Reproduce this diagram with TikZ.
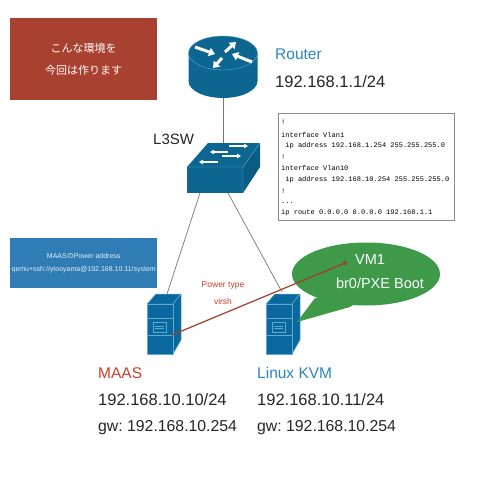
\documentclass[tikz,border=0pt]{standalone}
\usepackage{fontspec}
\setmainfont{Liberation Sans}
\newfontfamily\cjk{Noto Sans CJK JP}
\newfontfamily\cfgfont{Liberation Mono}
\usetikzlibrary{arrows.meta}
\frenchspacing
\definecolor{netblue}{HTML}{0C6690}
\definecolor{srvblue}{HTML}{0A689E}
\definecolor{srvline}{HTML}{5FA9CF}
\definecolor{labblue}{HTML}{2A86BE}
\definecolor{boxblue}{HTML}{2F7DB4}
\definecolor{redbox}{HTML}{A8412F}
\definecolor{labred}{HTML}{C8402A}
\definecolor{linered}{HTML}{A83A28}
\definecolor{bubble}{HTML}{3E9A49}
\definecolor{wire}{HTML}{777777}
\tikzset{
  wirel/.style={draw=wire,line width=0.7pt},
  iconarrow/.style={draw=white,line width=3pt,-{Triangle[length=6pt,width=8.5pt]}},
  swarrow/.style={draw=white,line width=1.3pt,-{Triangle[length=4pt,width=4.5pt]}},
  biglab/.style={anchor=west,inner sep=0pt,font=\fontsize{16.5}{18}\selectfont,text=black!85},
  gwlab/.style={anchor=west,inner sep=0pt,font=\fontsize{15.8}{18}\selectfont,text=black!85},
  namelab/.style={anchor=west,inner sep=0pt,font=\fontsize{15.5}{18}\selectfont},
  srvface/.style={fill=srvblue,draw=srvline,line width=0.5pt,line join=round},
  srvdetail/.style={draw=srvline,line width=0.7pt},
}
\newcommand{\serverdraw}[2]{%
  \begin{scope}[shift={(#1,#2)}]
    \path[srvface] (0,0) -- (9,-10) -- (34,-10) -- (26,0) -- cycle;
    \path[srvface] (26,0) -- (34,-10) -- (34,36) -- (26,50) -- cycle;
    \path[srvface] (0,0) rectangle (26,50);
    \draw[srvdetail] (0,14) -- (26,14);
    \draw[srvdetail] (0,31) -- (26,31);
    \draw[srvdetail] (6,18) rectangle (19,28);
    \draw[srvdetail] (8,22) -- (17,22) (8,24.5) -- (17,24.5);
  \end{scope}}
\begin{document}
\begin{tikzpicture}[x=1pt,y=-1pt]
\useasboundingbox (0,0) rectangle (480,480);
\fill[white] (0,0) rectangle (480,480);

% red box
\node[fill=redbox,minimum width=147pt,minimum height=82pt,inner sep=0pt,anchor=north west,
      text=white,align=center,font=\cjk\fontsize{11}{22}\selectfont] (note) at (10,18)
  {こんな環境を\\今回は作ります};

% connector anchor points
\coordinate (routerbot) at (223,98);
\coordinate (swtop) at (223,143);
\coordinate (swbl) at (200,193);
\coordinate (swbr) at (228,193);
\coordinate (maastop) at (167,294);
\coordinate (kvmtop) at (282,292);
\coordinate (maasport) at (172,335);
\coordinate (vmdot) at (345,263);

\draw[wirel] (routerbot) -- (swtop);
\draw[wirel] (swbl) -- (maastop);
\draw[wirel] (swbr) -- (kvmtop);

% router
\fill[netblue] (188.5,53) -- (188.5,81) arc[start angle=180,end angle=360,x radius=34.5pt,y radius=17pt] -- (257.5,53) -- cycle;
\fill[netblue,draw=srvline,line width=0.4pt] (223,53) ellipse[x radius=34.5pt,y radius=17pt];
\draw[iconarrow] (195,47) -- (215,54);
\draw[iconarrow] (225,52) -- (236,42);
\draw[iconarrow] (252,62) -- (232,54);
\draw[iconarrow] (222,58) -- (213,68);

% switch
\fill[netblue] (187,167) -- (208,143) -- (260,143) -- (243,167) -- cycle;
\fill[netblue] (187,167) rectangle (243,193);
\fill[netblue!90!black] (243,167) -- (260,143) -- (260,167) -- (243,193) -- cycle;
\draw[srvline,line width=0.4pt] (187,167) -- (243,167) -- (260,143) (243,167) -- (243,193);
\draw[swarrow] (229,146) -- (248,146);
\draw[swarrow] (228,152) -- (210,152);
\draw[swarrow] (222,156) -- (241,156);
\draw[swarrow] (218,162) -- (199,162);

% servers
\serverdraw{147}{304}
\serverdraw{266}{304}

% bubble
\fill[bubble] (366,274) ellipse[x radius=74pt,y radius=31.5pt];
\fill[bubble] (315,298) -- (297,322) -- (350,307) -- (360,300) -- cycle;

% texts
\node[namelab,text=labblue] (routername) at (275,54) {Router};
\node[biglab] (routerip) at (275,82) {192.168.1.1/24};
\node[biglab,font=\fontsize{15}{18}\selectfont] (l3) at (153,139) {L3SW};
\node[namelab,text=labred] (maasname) at (98,373) {MAAS};
\node[biglab] (maasip) at (98,400) {192.168.10.10/24};
\node[gwlab] (maasgw) at (98,428) {gw: 192.168.10.254};
\node[namelab,text=labblue] (kvmname) at (257,373) {Linux KVM};
\node[biglab] (kvmip) at (257,400) {192.168.10.11/24};
\node[gwlab] (kvmgw) at (257,428) {gw: 192.168.10.254};

% config box
\node[draw=black!45,fill=white,line width=0.8pt,minimum width=176pt,minimum height=107pt,inner sep=0pt,anchor=north west] (cfgbox) at (278,113) {};
\begin{scope}[every node/.style={anchor=west,inner sep=0pt,font=\cfgfont\fontsize{7}{8}\selectfont,text=black}]
\node (c1) at (281,122) {!};
\node (c2) at (281,135) {interface Vlan1};
\node (c3) at (281,146) { \ ip address 192.168.1.254 255.255.255.0};
\node (c4) at (281,157) {!};
\node (c5) at (281,168) {interface Vlan10};
\node (c6) at (281,180) { \ ip address 192.168.10.254 255.255.255.0};
\node (c7) at (281,191) {!};
\node (c8) at (281,203) {...};
\node (c9) at (281,213) {ip route 0.0.0.0 0.0.0.0 192.168.1.1};
\end{scope}

% blue box
\node[fill=boxblue,minimum width=147pt,minimum height=50pt,inner sep=0pt,anchor=north west,
      text=white!88!boxblue,align=center,font=\fontsize{7}{13}\selectfont] (power) at (10,238)
  {MAAS{\cjk の}Power address\\qemu+ssh://ytooyama@192.168.10.11/system};

% power type
\node[text=labred,align=center,inner sep=0pt,font=\fontsize{8.5}{17}\selectfont] (ptype) at (223,293) {Power type\\virsh};

% bubble text
\node[text=white,inner sep=0pt,font=\fontsize{14.5}{16}\selectfont] (vm) at (370,260) {VM1};
\node[text=white,inner sep=0pt,font=\fontsize{14.5}{16}\selectfont] (br) at (380,283) {br0/PXE Boot};

% red link
\draw[linered,line width=1.2pt] (maasport) -- (vmdot);
\fill[linered] (vmdot) circle (2pt);
\end{tikzpicture}
\end{document}
